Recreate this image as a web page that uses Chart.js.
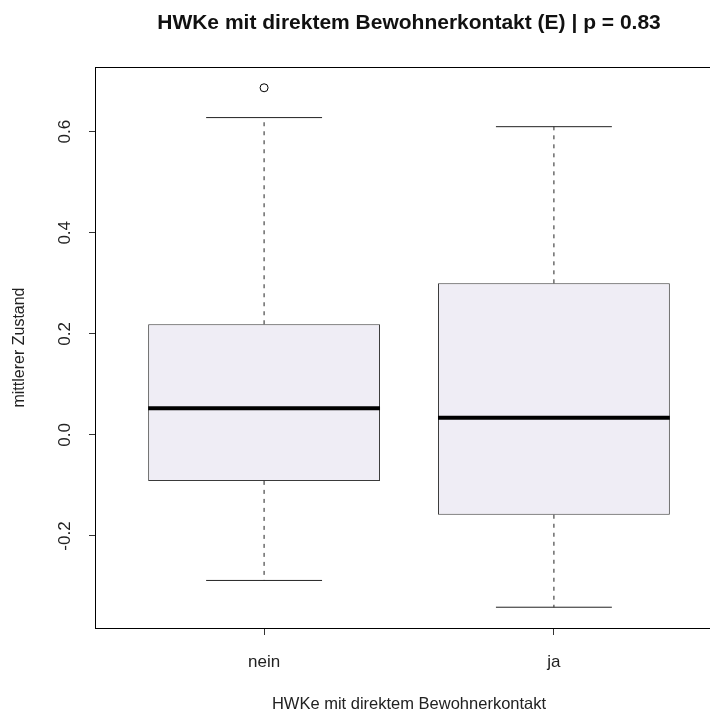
<!DOCTYPE html>
<html><head><meta charset="utf-8">
<script src="https://cdn.jsdelivr.net/npm/chart.js@4"></script>
<style>html,body{margin:0;padding:0;overflow:hidden;background:#fff;width:710px;height:715px}canvas{display:block}</style>
</head><body>
<canvas id="c" width="760" height="715"></canvas>
<script>
// ---- data ----
const categories = ['nein', 'ja'];
const q1 = [-0.091, -0.158];
const median = [0.053, 0.034];
const q3 = [0.219, 0.300];
const whiskerLow = [-0.288, -0.341];
const whiskerHigh = [0.628, 0.610];
const outliers = [[0.687], []];
const yTicks = [-0.2, 0.0, 0.2, 0.4, 0.6];
const titleText = 'HWKe mit direktem Bewohnerkontakt (E) | p = 0.83';
const xTitle = 'HWKe mit direktem Bewohnerkontakt';
const yTitle = 'mittlerer Zustand';

const BOXW = 0.8, CAPW = 0.4;
const FONT = '"Liberation Sans", Arial, sans-serif';
const datasets = [];

categories.forEach((c, i) => {
  const x = i + 1;
  datasets.push({ type: 'line', order: 0, data: [{x: x - BOXW/2, y: median[i]}, {x: x + BOXW/2, y: median[i]}],
    borderColor: '#000', borderWidth: 4, pointRadius: 0, borderCapStyle: 'butt' });
  [[q3[i], whiskerHigh[i]], [q1[i], whiskerLow[i]]].forEach(([a, b]) => {
    datasets.push({ type: 'line', order: 1, data: [{x, y: a}, {x, y: b}],
      borderColor: '#222', borderWidth: 1, borderDash: [4, 5], pointRadius: 0 });
    datasets.push({ type: 'line', order: 1, data: [{x: x - CAPW/2, y: b}, {x: x + CAPW/2, y: b}],
      borderColor: '#222', borderWidth: 1, pointRadius: 0 });
  });
  if (outliers[i].length) {
    datasets.push({ type: 'scatter', order: 0, data: outliers[i].map(v => ({x, y: v})),
      pointRadius: 4, pointStyle: 'circle', backgroundColor: 'rgba(0,0,0,0)', borderColor: '#000', borderWidth: 1 });
  }
});
datasets.push({ type: 'bar', order: 5,
  data: categories.map((c, i) => ({x: i + 1, y: [q1[i], q3[i]]})),
  backgroundColor: '#efedf5', borderColor: '#3a3a3a', borderWidth: 1, borderSkipped: false,
  barPercentage: BOXW, categoryPercentage: 1 });

const frame = {
  id: 'frame',
  afterDraw(chart) {
    const {ctx, chartArea: a} = chart;
    ctx.save();
    ctx.strokeStyle = '#000'; ctx.lineWidth = 1;
    ctx.strokeRect(Math.round(a.left) - 0.5, Math.round(a.top) + 0.5, a.right - a.left, a.bottom - a.top);
    ctx.fillStyle = '#111';
    ctx.font = 'bold 21px ' + FONT;
    ctx.textAlign = 'center'; ctx.textBaseline = 'alphabetic';
    ctx.fillText(titleText, (a.left + a.right) / 2, 29);
    ctx.restore();
  }
};

new Chart(document.getElementById('c'), {
  type: 'scatter',
  data: { datasets },
  plugins: [frame],
  options: {
    responsive: false, animation: false, devicePixelRatio: 1,
    layout: { padding: { top: 67, right: 38, left: 0, bottom: 0 } },
    plugins: { legend: { display: false }, tooltip: { enabled: false }, title: { display: false } },
    scales: {
      x: {
        type: 'linear', min: 0.42, max: 2.58, offset: false,
        afterBuildTicks: s => { s.ticks = categories.map((c, i) => ({ value: i + 1 })); },
        afterFit: s => { s.height = 87; },
        ticks: { callback: v => categories[v - 1], color: '#222', font: { family: FONT, size: 17 }, padding: 17, maxRotation: 0, autoSkip: false },
        grid: { offset: false, drawOnChartArea: false, drawTicks: true, tickLength: 7, tickColor: '#333' },
        border: { display: false },
        title: { display: true, text: xTitle, color: '#222', font: { family: FONT, size: 16.5 }, padding: { bottom: 1, top: 0 } }
      },
      y: {
        type: 'linear', min: -0.3821, max: 0.7281,
        afterBuildTicks: s => { s.ticks = yTicks.map(v => ({ value: v })); },
        afterFit: s => { s.width = 96; },
        ticks: { callback: v => v.toFixed(1), color: '#222', font: { family: FONT, size: 17 }, minRotation: 90, maxRotation: 90, crossAlign: 'center', padding: 9, autoSkip: false },
        grid: { offset: false, drawOnChartArea: false, drawTicks: true, tickLength: 7, tickColor: '#333' },
        border: { display: false },
        title: { display: true, text: yTitle, color: '#222', font: { family: FONT, size: 16 }, padding: { top: 10, bottom: 0 } }
      }
    }
  }
});
</script>
</body></html>
